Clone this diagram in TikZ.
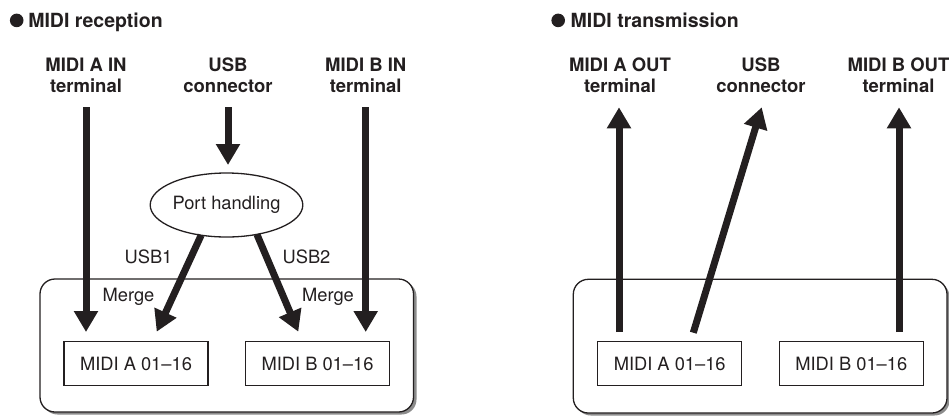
\documentclass[tikz,border=0pt]{standalone}
\usepackage{fontspec}
\setmainfont{TeX Gyre Heros}
\usetikzlibrary{arrows.meta,shapes.geometric}
\definecolor{ink}{HTML}{231F20}
\begin{document}
\begin{tikzpicture}[x=1pt,y=-1pt,
  every node/.style={inner sep=0pt, outer sep=0pt, text=ink},
  title/.style={anchor=base west, font=\fontsize{19.5}{23}\selectfont\bfseries},
  lbl/.style={anchor=south, align=center, text depth=0pt, font=\fontsize{18.5}{21.5}\selectfont\bfseries},
  txt/.style={anchor=base, font=\fontsize{18.3}{22}\selectfont},
  chan/.style={draw=ink, line width=1.4pt, minimum width=144pt, minimum height=44pt, font=\fontsize{18.3}{22}\selectfont},
  port/.style={ellipse, draw=ink, line width=1.3pt, minimum width=131pt, minimum height=64pt, font=\fontsize{18.3}{22}\selectfont},
  flow/.style={draw=ink, line width=7pt, -{Triangle[width=23pt,length=21pt]}},
  frame/.style={draw=ink, fill=white, line width=1.3pt, rounded corners=15pt},
  shade/.style={fill=black!45, rounded corners=15pt}
]
\useasboundingbox (0,0) rectangle (949,416);

% ---------------- MIDI reception ----------------
\fill[ink] (16.7,20.4) circle (6.8pt);
\node[title] (rtitle) at (28.3,27) {MIDI reception};

\node[lbl] (ainl) at (86,92.5) {MIDI A IN\\terminal};
\node[lbl] (usbl) at (228,92.5) {USB\\connector};
\node[lbl] (binl) at (365.7,92.5) {MIDI B IN\\terminal};

\fill[shade] (42.5,281.5) rectangle (416.5,414.5);
\path[frame] (40,279) rectangle (413.5,412);

\node[chan] (ra) at (136,363.7) {MIDI A 01--16};
\node[chan] (rb) at (317.5,363.7) {MIDI B 01--16};

\node[port] (ph) at (226.5,205) {Port handling};

\coordinate (ains) at (86,107);
\coordinate (aine) at (86,332);
\coordinate (usbs) at (228,107);
\coordinate (usbe) at (228,165);
\coordinate (bins) at (365.7,107);
\coordinate (bine) at (365.7,332);
\coordinate (u1e) at (156.7,331.7);
\coordinate (u2e) at (298.3,331.7);

\draw[flow] (ains) -- (aine);
\draw[flow] (usbs) -- (usbe);
\draw[flow] (bins) -- (bine);
\draw[flow] (ph.230) -- (u1e);
\draw[flow] (ph.316) -- (u2e);

\node[txt] (usb1) at (148.5,263.3) {USB1};
\node[txt] (usb2) at (306.5,263.3) {USB2};
\node[txt] (mga) at (128.5,301) {Merge};
\node[txt] (mgb) at (328,301) {Merge};

% ---------------- MIDI transmission ----------------
\fill[ink] (558.2,20.4) circle (6.8pt);
\node[title] (ttitle) at (570.7,27) {MIDI transmission};

\node[lbl] (aoutl) at (620,92.5) {MIDI A OUT\\terminal};
\node[lbl] (usbol) at (761,92.5) {USB\\connector};
\node[lbl] (boutl) at (898.5,92.5) {MIDI B OUT\\terminal};

\fill[shade] (575.8,281.8) rectangle (949.5,415.5);
\path[frame] (573.3,279.3) rectangle (947,413);

\node[chan] (ta) at (669.7,363.7) {MIDI A 01--16};
\node[chan] (tb) at (851.3,363.7) {MIDI B 01--16};

\coordinate (aouts) at (619,332);
\coordinate (aoute) at (619,107.3);
\coordinate (usbos) at (693.3,332.7);
\coordinate (usboe) at (761.7,107.3);
\coordinate (bouts) at (899,332);
\coordinate (boute) at (899,107.3);

\draw[flow] (aouts) -- (aoute);
\draw[flow] (usbos) -- (usboe);
\draw[flow] (bouts) -- (boute);
\end{tikzpicture}
\end{document}
